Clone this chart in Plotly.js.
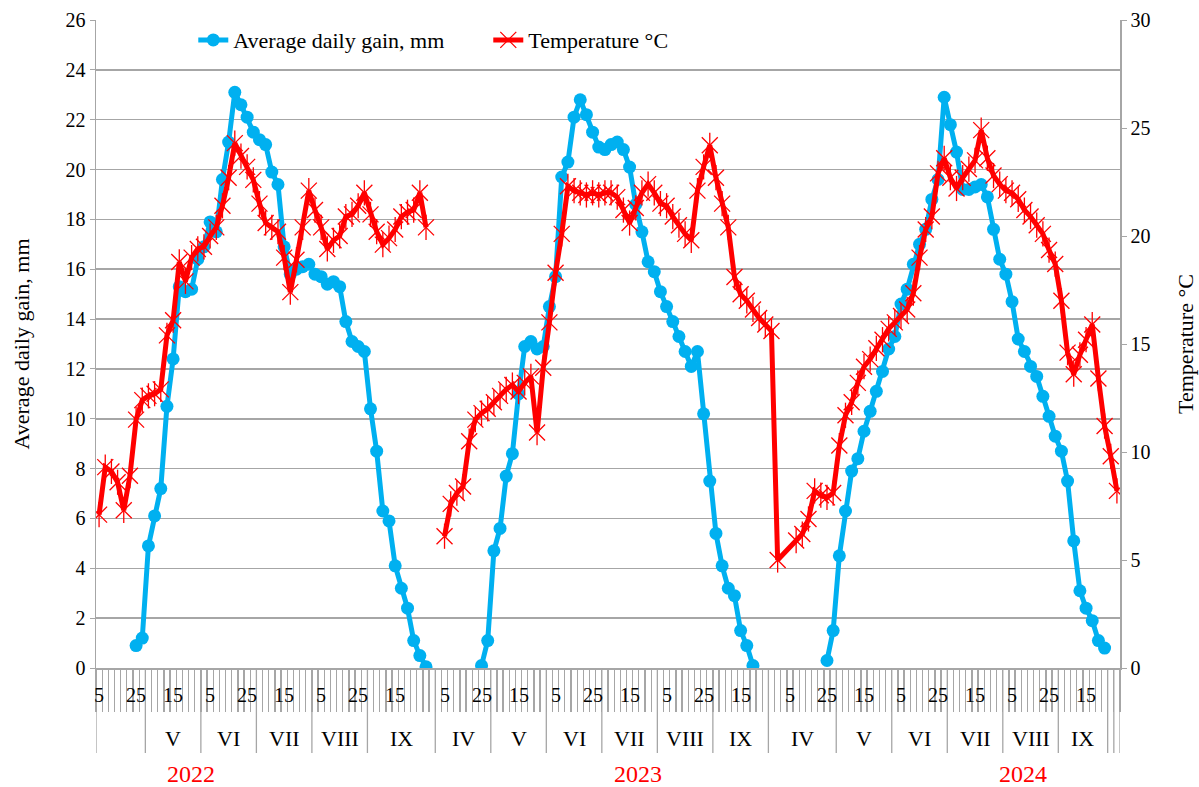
<!DOCTYPE html>
<html>
<head>
<meta charset="utf-8">
<script src="https://cdn.plot.ly/plotly-3.0.1.min.js"></script>
<style>html,body{margin:0;padding:0;background:#fff}#chart{width:1199px;height:787px}</style>
</head>
<body>
<div id="chart"></div>
<script>
// ---- categories ----
const categoryCount = 166;
const monthLabels = ['', 'V', 'VI', 'VII', 'VIII', 'IX', 'IV', 'V', 'VI', 'VII', 'VIII', 'IX', 'IV', 'V', 'VI', 'VII', 'VIII', 'IX', '', ''];
const monthSizes  = [8, 9, 9, 9, 9, 11, 9, 9, 9, 9, 9, 9, 11, 9, 9, 9, 9, 8, 1, 1];
const dayLabelText = ['5','25','15','5','25','15','5','25','15'];
const dayLabelStart = [0, 56, 112];
const yearLabels = ['2022', '2023', '2024'];
const yearLabelAt = [14.9, 87.3, 149.7];

// ---- Average daily gain, mm (left axis) ----
const gain2022Start = 6;
const gain2022 = [0.9,1.2,4.9,6.1,7.2,10.5,12.4,15.3,15.1,15.2,16.4,16.9,17.9,17.5,19.6,21.1,23.1,22.6,22.1,21.5,21.2,21.0,19.9,19.4,16.9,15.8,16.0,16.1,16.2,15.8,15.7,15.4,15.5,15.3,13.9,13.1,12.9,12.7,10.4,8.7,6.3,5.9,4.1,3.2,2.4,1.1,0.5,0.05];
const gain2023Start = 62;
const gain2023 = [0.1,1.1,4.7,5.6,7.7,8.6,11.0,12.9,13.1,12.8,12.9,14.5,15.7,19.7,20.3,22.1,22.8,22.2,21.5,20.9,20.8,21.0,21.1,20.8,20.1,18.6,17.5,16.3,15.9,15.1,14.5,13.9,13.3,12.7,12.1,12.7,10.2,7.5,5.4,4.1,3.2,2.9,1.5,0.9,0.1];
const gain2024Start = 118;
const gain2024 = [0.3,1.5,4.5,6.3,7.9,8.4,9.5,10.3,11.1,11.9,12.8,13.3,14.6,15.2,16.2,17.0,17.6,18.8,19.6,22.9,21.8,20.7,19.2,19.2,19.3,19.4,18.9,17.6,16.4,15.8,14.7,13.2,12.7,12.1,11.7,10.9,10.1,9.3,8.7,7.5,5.1,3.1,2.4,1.9,1.1,0.8];

// ---- Temperature °C (right axis) ----
const temp2022Start = 0;
const temp2022 = [7.1,9.3,9.1,8.6,7.3,8.9,11.5,12.4,12.6,12.7,12.9,15.4,16.1,18.8,17.9,19.0,19.4,19.5,20.0,20.4,21.4,22.7,24.3,23.7,23.2,22.6,21.5,20.6,20.4,20.2,19.0,17.4,18.9,20.4,22.1,21.2,20.4,19.4,19.8,20.0,20.9,21.0,21.4,22.0,21.0,20.2,19.6,19.9,20.3,20.9,21.1,21.2,22.0,20.4];
const temp2023Start = 56;
const temp2023 = [6.1,7.6,8.1,8.4,10.5,11.5,11.8,12.0,12.3,12.6,12.9,13.1,12.8,13.2,13.5,10.9,13.9,16.0,18.3,20.1,22.3,22.1,22.0,21.9,22.0,21.9,22.0,22.0,21.8,21.2,20.6,21.3,22.0,22.4,22.0,21.5,21.4,20.9,20.5,20.1,19.8,22.1,23.2,24.2,22.7,21.5,20.4,18.1,17.3,17.0,16.6,16.2,15.9,15.6];
const temp2024Start = 110;
const temp2024 = [5.0,null,null,5.9,6.2,6.9,8.2,8.0,7.9,8.1,10.3,11.7,12.3,13.2,13.95,14.3,14.8,15.2,15.7,16.0,16.3,16.6,17.35,19.0,20.3,20.9,22.9,23.6,22.7,22.2,22.7,23.1,23.5,24.9,23.6,22.8,22.4,22.1,22.0,21.7,21.2,20.9,20.5,20.1,19.35,18.7,17.0,14.6,13.6,14.5,15.2,15.9,13.4,11.2,9.8,8.2];

// build x/y arrays: each segment is a list of [start, values]; segments are separated by gaps
function buildXY(segments) {
  const x = [], y = [];
  segments.forEach((seg, s) => {
    if (s > 0) { x.push(x[x.length - 1] + 0.5); y.push(null); }
    seg.forEach(([start, vals]) => {
      vals.forEach((v, j) => { if (v !== null) { x.push(start + j); y.push(v); } });
    });
  });
  return {x, y};
}
const gainXY = buildXY([[[gain2022Start, gain2022]], [[gain2023Start, gain2023]], [[gain2024Start, gain2024]]]);
const tempXY = buildXY([[[temp2022Start, temp2022]], [[temp2023Start, temp2023], [temp2024Start, temp2024]]]);

const blue = '#00B0F0';
const red = '#FF0000';
const grey = '#A6A6A6';
const FONT = 'Liberation Serif';

const traces = [
  {x: gainXY.x, y: gainXY.y, type: 'scatter', mode: 'lines+markers', name: 'Average daily gain, mm',
   line: {color: blue, width: 5}, marker: {symbol: 'circle', size: 13, color: blue}, connectgaps: false,
   xaxis: 'x', yaxis: 'y'},
  {x: tempXY.x, y: tempXY.y, type: 'scatter', mode: 'lines+markers', name: 'Temperature °C',
   line: {color: red, width: 5}, marker: {symbol: 'x-thin-open', size: 16, color: red, line: {color: red, width: 1.3}},
   connectgaps: false, xaxis: 'x', yaxis: 'y2'},
  {x: tempXY.x, y: tempXY.y, type: 'scatter', mode: 'markers', showlegend: false, hoverinfo: 'skip',
   marker: {symbol: 'line-ns-open', size: 18, color: red, line: {color: red, width: 1.3}},
   xaxis: 'x', yaxis: 'y2'}
];

// category boundaries (minor ticks)
const boundaries = [];
for (let k = 0; k <= categoryCount; k++) boundaries.push(k - 0.5);

// month group separators and labels
const shapes = [];
const annotations = [];
const sepBottom = -(753 - 668) / 648;
let pos = 0;
const groupEdges = [0];
monthSizes.forEach((n, g) => {
  const start = pos;
  pos += n;
  groupEdges.push(pos);
  if (monthLabels[g]) {
    annotations.push({x: start + n / 2 - 0.5, y: -(738.5 - 668) / 648, xref: 'x', yref: 'paper',
      text: monthLabels[g], showarrow: false, xanchor: 'center', yanchor: 'middle',
      font: {family: FONT, size: 22, color: '#000'}});
  }
});
groupEdges.forEach(e => {
  shapes.push({type: 'line', xref: 'x', yref: 'paper', x0: e - 0.5, x1: e - 0.5, y0: 0, y1: sepBottom,
    line: {color: grey, width: 1.3}});
});
// day labels
dayLabelStart.forEach(s => {
  dayLabelText.forEach((t, j) => {
    annotations.push({x: s + j * 6, y: -(695 - 668) / 648, xref: 'x', yref: 'paper', text: t,
      showarrow: false, xanchor: 'center', yanchor: 'middle', font: {family: FONT, size: 20, color: '#000'}});
  });
});
// year labels
yearLabels.forEach((t, j) => {
  annotations.push({x: yearLabelAt[j], y: -(774 - 668) / 648, xref: 'x', yref: 'paper', text: t,
    showarrow: false, xanchor: 'center', yanchor: 'middle', font: {family: FONT, size: 24, color: red}});
});

const layout = {
  width: 1199, height: 787,
  margin: {l: 96, r: 79, t: 20, b: 119, pad: 0},
  paper_bgcolor: '#fff', plot_bgcolor: '#fff',
  font: {family: FONT, size: 20, color: '#000'},
  showlegend: true,
  legend: {orientation: 'h', x: 0.095, y: 0.969, xanchor: 'left', yanchor: 'middle',
    font: {family: FONT, size: 22, color: '#000'}, bgcolor: 'rgba(0,0,0,0)', entrywidth: 250, entrywidthmode: 'pixels',
    itemwidth: 30},
  xaxis: {range: [-0.5, categoryCount - 0.5], tickmode: 'array', tickvals: boundaries,
    ticktext: boundaries.map(() => ''), showticklabels: false, ticks: 'outside', ticklen: 42,
    tickcolor: grey, tickwidth: 1.3, showgrid: false, zeroline: false, showline: true,
    linecolor: grey, linewidth: 1.5, fixedrange: true},
  yaxis: {range: [0, 26], dtick: 2, tick0: 0, showgrid: true, gridcolor: grey, gridwidth: 1.5,
    zeroline: false, showline: true, linecolor: grey, linewidth: 1.5, ticks: 'outside', ticklen: 5,
    tickcolor: grey, tickfont: {family: FONT, size: 20, color: '#000'},
    title: {text: 'Average daily gain, mm', font: {family: FONT, size: 22, color: '#000'}, standoff: 30}},
  yaxis2: {range: [0, 30], dtick: 5, tick0: 0, overlaying: 'y', side: 'right', showgrid: false,
    zeroline: false, showline: true, linecolor: grey, linewidth: 1.5, ticks: 'outside', ticklen: 5,
    tickcolor: grey, tickfont: {family: FONT, size: 20, color: '#000'},
    title: {text: 'Temperature °C', font: {family: FONT, size: 22, color: '#000'}, standoff: 28}},
  shapes: shapes,
  annotations: annotations
};

Plotly.newPlot('chart', traces, layout, {displayModeBar: false, staticPlot: true});
</script>
</body>
</html>
